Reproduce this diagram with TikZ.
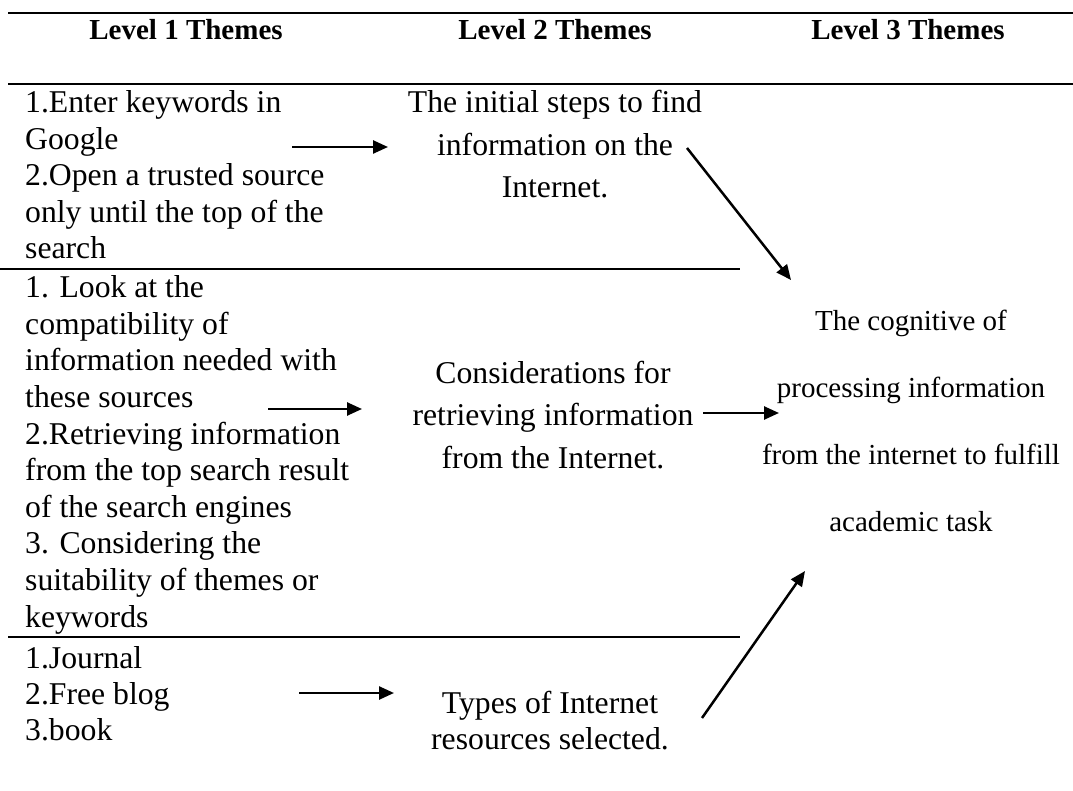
\documentclass[tikz,border=0pt]{standalone}
\usepackage{fontspec}
\setmainfont{Liberation Serif}
\usetikzlibrary{arrows.meta}
\begin{document}
\begin{tikzpicture}[x=1pt,y=-1pt,
  rule/.style={line width=2.6pt},
  arr/.style={line width=2.5pt,-{Triangle[length=15pt,width=13pt]}},
  head/.style={font=\fontsize{29}{34}\selectfont\bfseries,inner sep=0pt,anchor=base},
  leftcol/.style={font=\fontsize{31.7}{36.5}\selectfont,inner sep=0pt,align=left,anchor=base west},
  midcol/.style={font=\fontsize{31.7}{42.5}\selectfont,inner sep=0pt,align=center,anchor=base},
  rightcol/.style={font=\fontsize{29}{67}\selectfont,inner sep=0pt,align=center,anchor=base}]
\useasboundingbox (0,0) rectangle (1073,791);
% rules
\draw[rule] (8,13) -- (1073,13);
\draw[rule] (8,84) -- (1073,84);
\draw[rule] (0,269) -- (740,269);
\draw[rule] (8,637) -- (740,637);
% headers
\node[head] (h1) at (186,40) {Level 1 Themes};
\node[head] (h2) at (555,40) {Level 2 Themes};
\node[head] (h3) at (908,40) {Level 3 Themes};
% row 1 (anchors are at the baseline of the last line)
\node[leftcol] (l1) at (25,259) {1.Enter keywords in\\Google\\2.Open a trusted source\\only until the top of the\\search};
\node[midcol] (m1) at (555,198) {The initial steps to find\\information on the\\Internet.};
% row 2
\node[leftcol,font=\fontsize{31.7}{36.6}\selectfont] (l2) at (25,627) {1. Look at the\\compatibility of\\information needed with\\these sources\\2.Retrieving information\\from the top search result\\of the search engines\\3. Considering the\\suitability of themes or\\keywords};
\node[midcol] (m2) at (553,468) {Considerations for\\retrieving information\\from the Internet.};
% row 3
\node[leftcol,font=\fontsize{31.7}{36}\selectfont] (l3) at (25,740) {1.Journal\\2.Free blog\\3.book};
\node[midcol,font=\fontsize{31.7}{36}\selectfont] (m3) at (550,749) {Types of Internet\\resources selected.};
% level 3
\node[rightcol] (r) at (911,531) {The cognitive of\\processing information\\from the internet to fulfill\\academic task};
% arrow end points
\coordinate (a1s) at (292,147); \coordinate (a1e) at (388,147);
\coordinate (a2s) at (268,409); \coordinate (a2e) at (362,409);
\coordinate (a3s) at (299,693); \coordinate (a3e) at (394,693);
\coordinate (b1s) at (687,148); \coordinate (b1e) at (791,280);
\coordinate (b2s) at (703,413); \coordinate (b2e) at (779,413);
\coordinate (b3s) at (702,718); \coordinate (b3e) at (805,571);
\draw[arr] (a1s) -- (a1e);
\draw[arr] (a2s) -- (a2e);
\draw[arr] (a3s) -- (a3e);
\draw[arr] (b1s) -- (b1e);
\draw[arr] (b2s) -- (b2e);
\draw[arr] (b3s) -- (b3e);
\end{tikzpicture}
\end{document}
